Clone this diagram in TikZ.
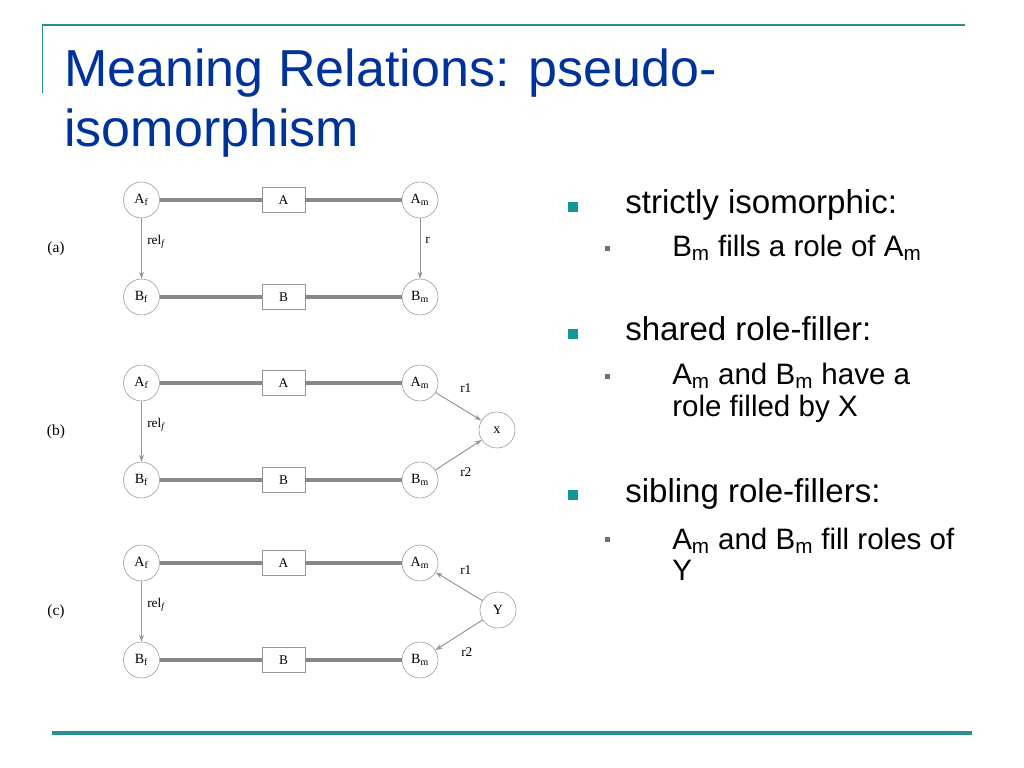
\documentclass[tikz,border=0pt]{standalone}
\usepackage{fontspec}
\setmainfont{Liberation Sans}
\newfontfamily\figfont{Liberation Serif}
\usetikzlibrary{arrows.meta}
\usetikzlibrary{positioning}

\definecolor{titleblue}{RGB}{0,51,153}
\definecolor{rulecol}{RGB}{38,145,145}
\definecolor{bullet}{RGB}{20,150,150}
\definecolor{subbullet}{RGB}{95,120,105}
\definecolor{edgegray}{RGB}{150,150,150}
\definecolor{linkgray}{RGB}{135,135,135}

\tikzset{
  ent/.style={circle,draw=edgegray,fill=white,inner sep=0pt,minimum size=0.9cm,font=\figfont\fontsize{10}{11}\selectfont},
  cls/.style={rectangle,draw=edgegray,fill=white,inner sep=0pt,minimum width=1.075cm,minimum height=0.625cm,font=\figfont\fontsize{9.5}{10}\selectfont},
  link/.style={draw=linkgray,line width=2.8pt},
  rel/.style={draw=edgegray,line width=0.7pt,-{Stealth[length=5pt,width=3.5pt]}},
  rellabel/.style={font=\figfont\fontsize{9.5}{10}\selectfont,anchor=west,inner sep=0pt},
  panel/.style={font=\figfont\fontsize{11}{12}\selectfont},
  lvlone/.style={font=\fontsize{23.5}{26}\selectfont,anchor=base west,inner sep=0pt},
  lvltwo/.style={font=\fontsize{21}{22.8}\selectfont,anchor=base west,inner sep=0pt},
}

\begin{document}
\begin{tikzpicture}[x=0.025cm,y=-0.025cm]
\useasboundingbox[fill=white] (0,0) rectangle (1024,768);

% slide frame
\draw[rulecol,line width=1.4pt] (42,25) -- (965,25);
\draw[rulecol,line width=1.4pt] (42.5,25) -- (42.5,93);
\draw[rulecol,line width=2.2pt] (52,733) -- (972,733);

% title
\node[font=\fontsize{37}{43}\selectfont,text=titleblue,anchor=base west,inner sep=0pt] (title1) at (64,87) {Meaning Relations: pseudo-};
\node[font=\fontsize{37}{43}\selectfont,text=titleblue,anchor=base west,inner sep=0pt] (title2) at (64,147) {isomorphism};

% common part of the three panels
\foreach \p/\y in {a/200,b/383,c/563}{
  \node[panel] (lab\p) at (56,\y+49) {(\p)};
  \node[ent] (Af\p) at (141.5,\y) {A\textsubscript{f}};
  \node[ent] (Am\p) at (420,\y) {A\textsubscript{m}};
  \node[ent] (Bf\p) at (141.5,\y+97) {B\textsubscript{f}};
  \node[ent] (Bm\p) at (420,\y+97) {B\textsubscript{m}};
  \node[cls] (A\p) at (283.5,\y) {A};
  \node[cls] (B\p) at (283.5,\y+97) {B};
  \draw[link] (Af\p) -- (A\p) -- (Am\p);
  \draw[link] (Bf\p) -- (B\p) -- (Bm\p);
  \draw[rel] (Af\p) -- (Bf\p);
  \node[rellabel] (relf\p) at (147,\y+42) {rel\textsubscript{\itshape f}};
}

% (a) strictly isomorphic
\draw[rel] (Ama) -- (Bma);
\node[rellabel] (ra) at (425,240) {r};

% (b) shared role-filler
\node[ent] (X) at (497,430) {x};
\draw[rel] (Amb) -- (X);
\draw[rel] (Bmb) -- (X);
\node[rellabel] (r1b) at (460,388) {r1};
\node[rellabel] (r2b) at (460,472) {r2};

% (c) sibling role-fillers
\node[ent] (Y) at (498,610) {Y};
\draw[rel] (Y) -- (Amc);
\draw[rel] (Y) -- (Bmc);
\node[rellabel] (r1c) at (460,570) {r1};
\node[rellabel] (r2c) at (461,652) {r2};

% bullets
\foreach \y in {207,334,495}
  \fill[bullet] (568,\y-5) rectangle (578,\y+5);
\foreach \y in {248,376,539}
  \fill[subbullet] (605,\y-2.5) rectangle (610,\y+2.5);

\node[lvlone] (t1) at (625,213) {strictly isomorphic:};
\node[lvltwo] (s1) at (672,256) {B\textsubscript{m} fills a role of A\textsubscript{m}};
\node[lvlone] (t2) at (625,340) {shared role-filler:};
\node[lvltwo] (s2) at (672,384) {A\textsubscript{m} and B\textsubscript{m} have a};
\node[lvltwo] (s2b) at (672,416) {role filled by X};
\node[lvlone] (t3) at (625,502) {sibling role-fillers:};
\node[lvltwo] (s3) at (672,549) {A\textsubscript{m} and B\textsubscript{m} fill roles of};
\node[lvltwo] (s3b) at (672,580) {Y};

\end{tikzpicture}
\end{document}
